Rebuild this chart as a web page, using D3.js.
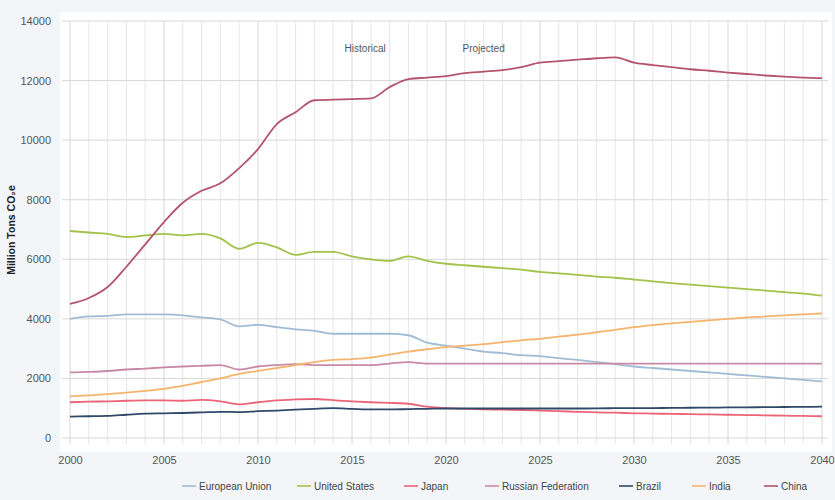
<!DOCTYPE html>
<html><head><meta charset="utf-8">
<script src="https://cdn.jsdelivr.net/npm/d3@7"></script>
<style>
html,body{margin:0;padding:0;background:#f3f5f8;}
svg{display:block;}
text{font-family:"Liberation Sans Narrow","Arial Narrow","Liberation Sans",sans-serif;}
</style></head>
<body><svg id="c" width="835" height="500"></svg>
<script>
const years = d3.range(2000, 2041);
const seriesNames = ["European Union","United States","Japan","Russian Federation","Brazil","India","China"];
const colors = ["#9fbcd4","#a3c24a","#ec6478","#c98aa6","#2f4a68","#f5b46e","#b5546d"];
const euValues = [4000,4080,4100,4150,4150,4150,4120,4050,3980,3750,3800,3720,3650,3600,3500,3500,3500,3500,3450,3200,3100,3000,2900,2850,2780,2750,2680,2620,2550,2480,2400,2350,2300,2250,2200,2150,2100,2050,2000,1950,1900];
const usValues = [6950,6900,6850,6750,6800,6850,6800,6850,6700,6350,6550,6400,6150,6250,6250,6100,6000,5950,6100,5950,5850,5800,5750,5700,5650,5580,5530,5480,5420,5380,5320,5260,5200,5150,5100,5050,5000,4950,4900,4850,4780];
const japanValues = [1200,1220,1230,1250,1260,1260,1250,1280,1230,1130,1200,1260,1300,1310,1270,1230,1200,1180,1150,1050,1000,980,960,950,940,920,900,880,860,850,830,820,810,800,790,780,770,760,750,740,730];
const russiaValues = [2200,2220,2250,2300,2330,2370,2400,2420,2450,2300,2400,2450,2480,2450,2450,2450,2450,2500,2550,2500,2500,2500,2500,2500,2500,2500,2500,2500,2500,2500,2500,2500,2500,2500,2500,2500,2500,2500,2500,2500,2500];
const brazilValues = [720,730,740,780,820,830,840,860,880,870,900,920,950,980,1000,980,960,960,970,980,990,990,990,990,990,990,990,990,995,1000,1000,1005,1010,1015,1020,1025,1030,1035,1040,1045,1050];
const indiaValues = [1400,1430,1470,1520,1580,1650,1750,1880,2000,2150,2250,2350,2450,2550,2620,2650,2700,2800,2900,2980,3050,3100,3150,3220,3280,3330,3400,3470,3550,3630,3720,3790,3850,3900,3950,4000,4050,4080,4120,4150,4180];
const chinaValues = [4500,4700,5070,5750,6500,7250,7900,8300,8550,9060,9700,10540,10940,11340,11360,11380,11400,11780,12050,12100,12150,12250,12300,12350,12450,12600,12650,12700,12750,12780,12600,12520,12450,12380,12330,12270,12220,12170,12130,12100,12080];
const seriesValues = [euValues,usValues,japanValues,russiaValues,brazilValues,indiaValues,chinaValues];
const xTicks = [2000,2005,2010,2015,2020,2025,2030,2035,2040];
const yTicks = [0,2000,4000,6000,8000,10000,12000,14000];
const annotations = [{label:"Historical", year:2015.7}, {label:"Projected", year:2022.0}];
const yTitle = "Million Tons CO\u2082e";

const svg = d3.select("#c");
const x = d3.scaleLinear().domain([2000,2040]).range([70,822]);
const y = d3.scaleLinear().domain([0,14000]).range([438,21]);

// plot background
svg.append("rect").attr("x",60).attr("y",12).attr("width",772).attr("height",440).attr("fill","#ffffff");

// vertical yearly gridlines
svg.append("g").selectAll("line").data(years).join("line")
  .attr("x1",d=>x(d)).attr("x2",d=>x(d)).attr("y1",y(14000)).attr("y2",y(0)+6)
  .attr("stroke",d=> d%5===0 ? "#d6d6d6" : "#e6e6e6").attr("stroke-width",1);
// horizontal gridlines
svg.append("g").selectAll("line").data(yTicks).join("line")
  .attr("x1",62).attr("x2",828).attr("y1",d=>y(d)).attr("y2",d=>y(d))
  .attr("stroke","#d8d8d8").attr("stroke-width",1);

// y axis
const yAxis = svg.append("g").attr("transform","translate(57,0)")
  .call(d3.axisLeft(y).tickValues(yTicks).tickFormat(d3.format("d")).tickSize(0).tickPadding(6));
yAxis.select(".domain").remove();
yAxis.selectAll("text").attr("font-size",11).attr("fill","#555");

// x axis
const xAxis = svg.append("g").attr("transform","translate(0,450)")
  .call(d3.axisBottom(x).tickValues(xTicks).tickFormat(d3.format("d")).tickSize(0).tickPadding(6));
xAxis.select(".domain").remove();
xAxis.selectAll("text").attr("font-size",11).attr("fill","#555");

// y title
svg.append("text").attr("transform","translate(15,230) rotate(-90)")
  .attr("text-anchor","middle").attr("font-size",10.5).attr("font-weight","bold").attr("fill","#222")
  .style("font-family","'Liberation Sans',Arial,sans-serif").text(yTitle);

// annotations
svg.append("g").selectAll("text").data(annotations).join("text")
  .attr("x",d=>x(d.year)).attr("y",52).attr("text-anchor","middle")
  .attr("font-size",10).attr("fill","#555").text(d=>d.label);

// lines
const line = d3.line().x((d,i)=>x(years[i])).y(d=>y(d)).curve(d3.curveMonotoneX);
svg.append("g").selectAll("path").data(seriesValues).join("path")
  .attr("d",d=>line(d)).attr("fill","none")
  .attr("stroke",(d,i)=>colors[i]).attr("stroke-width",1.8);

// legend
const legendX = [182,297,404,485,619,692,764];
const lg = svg.append("g").selectAll("g").data(seriesNames).join("g")
  .attr("transform",(d,i)=>`translate(${legendX[i]},486)`);
lg.append("line").attr("x1",0).attr("x2",14).attr("y1",0).attr("y2",0)
  .attr("stroke",(d,i)=>colors[i]).attr("stroke-width",1.6);
lg.append("text").attr("x",17).attr("y",4).attr("font-size",10).attr("fill","#444").text(d=>d);
</script></body></html>
